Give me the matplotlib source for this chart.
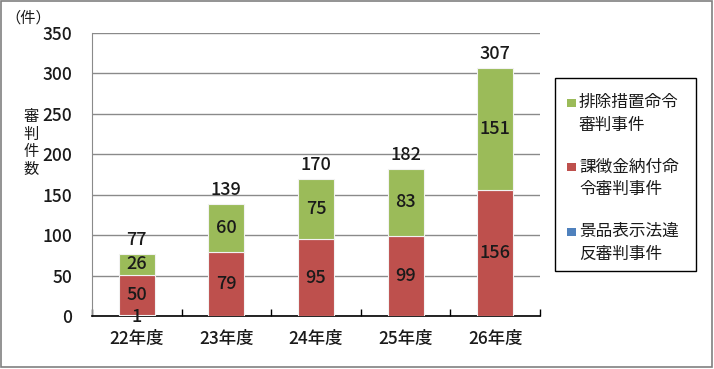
import matplotlib
matplotlib.use("Agg")
import matplotlib.pyplot as plt
from matplotlib.patches import Rectangle
import numpy as np

categories = ["22年度", "23年度", "24年度", "25年度", "26年度"]
keihin = [1, 0, 0, 0, 0]            # 景品表示法違反審判事件
kachokin = [50, 79, 95, 99, 156]    # 課徴金納付命令審判事件
haijo = [26, 60, 75, 83, 151]       # 排除措置命令審判事件
totals = [77, 139, 170, 182, 307]
yticks = [0, 50, 100, 150, 200, 250, 300, 350]

legend_labels = ["排除措置命令\n審判事件", "課徴金納付命\n令審判事件", "景品表示法違\n反審判事件"]
colors = {"keihin": "#4F81BD", "kachokin": "#BE504D", "haijo": "#9BBB59"}

W, H = 714, 369
fig = plt.figure(figsize=(W / 100, H / 100), dpi=100)
fig.patch.set_facecolor("white")

def fx(px):
    return px / W

def fy(py):
    return 1 - py / H

ax = fig.add_axes([fx(92), fy(316), fx(540) - fx(92), fy(33) - fy(316)])

num_font = ["Noto Sans CJK JP", "DejaVu Sans"]
cjk_font = ["Noto Sans CJK JP", "DejaVu Sans"]
txt_color = "#1a1a1a"

x = np.arange(len(categories))
w = 0.4
ec = "#f2f2f2"
ax.bar(x, keihin, w, color=colors["keihin"], edgecolor=ec, linewidth=0.8, zorder=3)
ax.bar(x, kachokin, w, bottom=keihin, color=colors["kachokin"], edgecolor=ec, linewidth=0.8, zorder=3)
bot3 = np.array(keihin) + np.array(kachokin)
ax.bar(x, haijo, w, bottom=bot3, color=colors["haijo"], edgecolor=ec, linewidth=0.8, zorder=3)

lab_kw = dict(ha="center", va="center", fontsize=13, family=num_font, weight="medium",
              color=txt_color, zorder=5)
for i in range(len(categories)):
    if keihin[i]:
        ax.text(x[i], keihin[i] / 2 - 1.5, str(keihin[i]), **lab_kw)
    ax.text(x[i], keihin[i] + kachokin[i] / 2, str(kachokin[i]), **lab_kw)
    ax.text(x[i], bot3[i] + haijo[i] / 2, str(haijo[i]), **lab_kw)
    ax.annotate(str(totals[i]), (x[i], totals[i]), xytext=(0, 10), textcoords="offset points",
                ha="center", va="center", fontsize=13, family=num_font, weight="medium",
                color=txt_color)

ax.set_xlim(-0.5, len(categories) - 0.5)
ax.set_ylim(0, 350)
ax.set_yticks(yticks)
ax.set_yticklabels([str(v) for v in yticks], family=num_font, fontsize=12.5, weight="medium",
                   color=txt_color)
ax.yaxis.grid(True, color="#8a8a8a", linewidth=1.0, zorder=0)
ax.set_axisbelow(True)
ax.tick_params(axis="y", length=0, pad=14)

ax.set_xticks(x)
ax.set_xticklabels(categories, family=num_font, fontsize=12.5, weight="medium", color=txt_color)
ax.set_xticks(np.arange(-0.5, len(categories)), minor=True)
ax.tick_params(axis="x", which="major", length=0, pad=10)
ax.tick_params(axis="x", which="minor", direction="in", length=5, width=1, color="black")

for s in ["top", "right"]:
    ax.spines[s].set_visible(False)
ax.spines["left"].set_color("#8a8a8a")
ax.spines["bottom"].set_color("black")
ax.spines["bottom"].set_linewidth(1.2)

# y-axis unit and label
fig.text(fx(28), fy(18), "（件）", ha="center", va="center", fontsize=11, family=cjk_font,
         color=txt_color)
fig.text(fx(31), fy(143), "\n".join("審判件数"), ha="center", va="center", fontsize=11,
         family=cjk_font, linespacing=1.05, color=txt_color)

# legend
fig.patches.append(Rectangle((fx(555), fy(271)), fx(696) - fx(555), fy(78) - fy(271),
                             transform=fig.transFigure, fill=False, edgecolor="black", linewidth=1.0))
leg_colors = [colors["haijo"], colors["kachokin"], colors["keihin"]]
for k, (lab, c) in enumerate(zip(legend_labels, leg_colors)):
    y0 = 103 + 64.5 * k
    fig.patches.append(Rectangle((fx(567), fy(y0 + 4)), fx(8.5), 8.5 / H,
                                 transform=fig.transFigure, facecolor=c, edgecolor="none"))
    fig.text(fx(579), fy(y0 - 9), lab, ha="left", va="top", fontsize=12,
             family=cjk_font, linespacing=1.45, color=txt_color)

# figure border
fig.patches.append(Rectangle((fx(1), fy(367)), fx(711), fy(1) - fy(367),
                             transform=fig.transFigure, fill=False, edgecolor="#808080", linewidth=1.2))

fig.savefig("out.png", dpi=100)
